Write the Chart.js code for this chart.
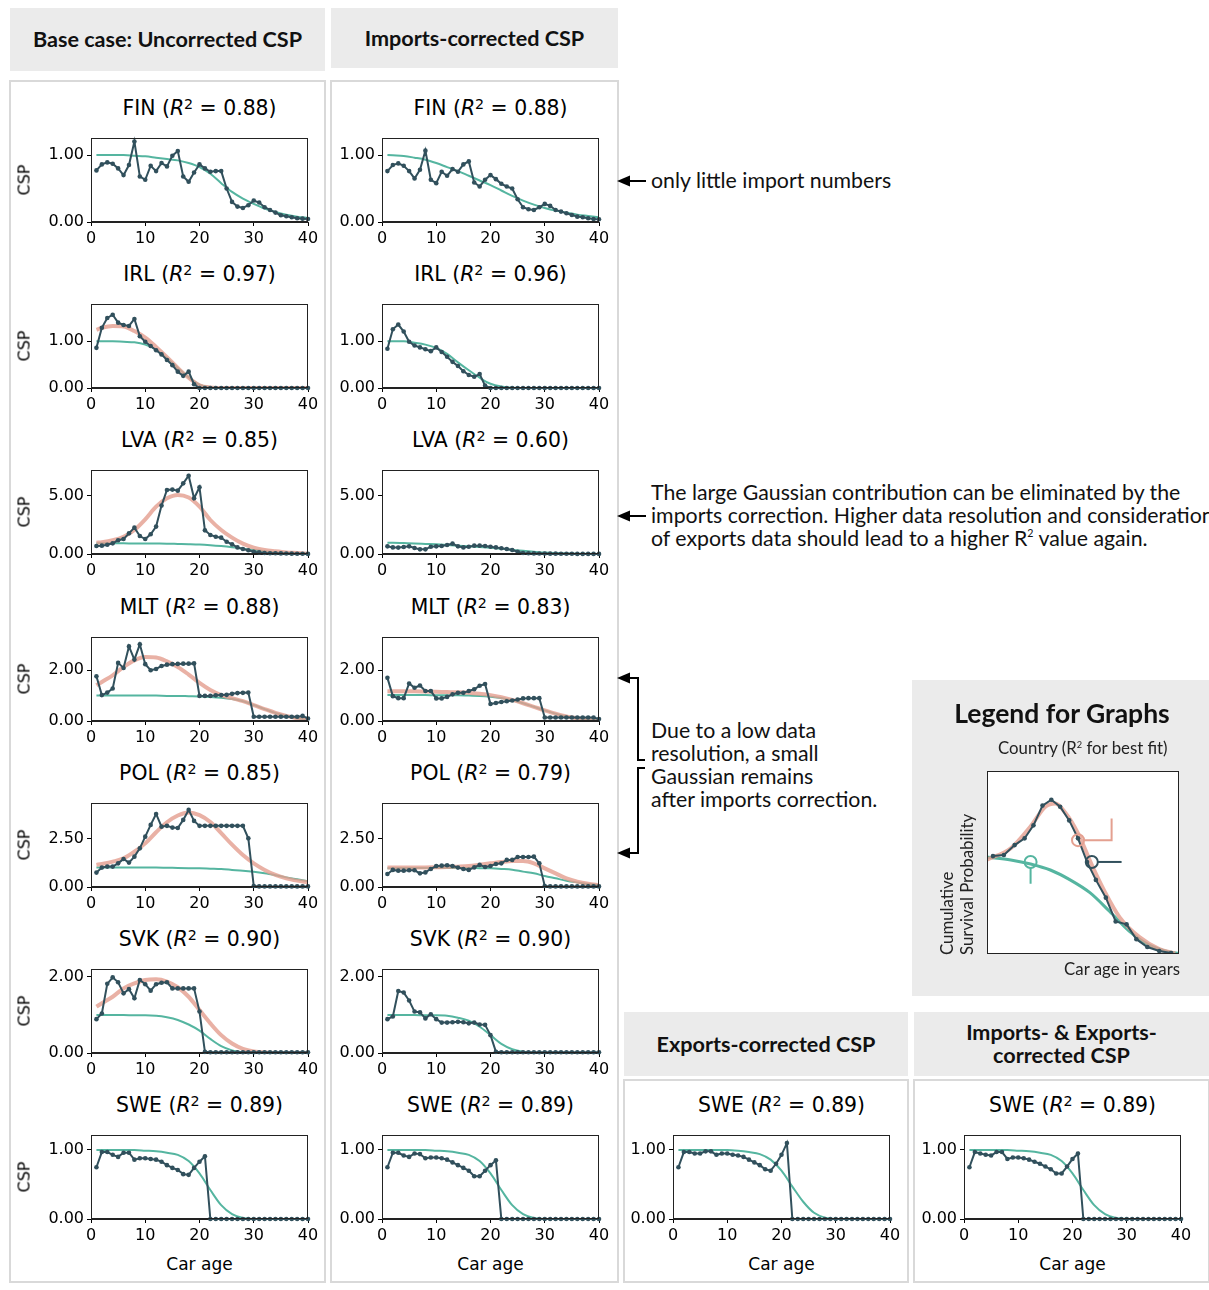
<!DOCTYPE html>
<html><head><meta charset="utf-8">
<script src="https://cdn.jsdelivr.net/npm/chart.js@4.4.0/dist/chart.umd.min.js"></script>
<style>
html,body{margin:0;padding:0;background:#fff;}
#root{position:relative;width:1209px;height:1290px;overflow:hidden;font-family:Lato,sans-serif;color:#111;}
.hdr{position:absolute;background:#ebebeb;font-weight:bold;font-size:21.6px;display:flex;align-items:center;justify-content:center;text-align:center;line-height:23px;}
.frame{position:absolute;border:2px solid #d9d9d9;box-sizing:border-box;}
.ttl{position:absolute;font-family:'DejaVu Sans';font-size:20.4px;white-space:nowrap;transform:translate(-50%,-50%);color:#000;}
.sup{position:relative;top:-0.45em;font-size:0.7em;}
.csp{position:absolute;font-family:'DejaVu Sans';font-size:16px;transform:translate(-50%,-50%) rotate(-90deg);white-space:nowrap;color:#000;}
.xl{position:absolute;font-family:'DejaVu Sans';font-size:17px;transform:translate(-50%,-50%);white-space:nowrap;color:#000;}
.note{position:absolute;font-size:21.3px;line-height:23px;white-space:nowrap;color:#111;}
canvas{position:absolute;}
.lg{position:absolute;font-size:16.8px;white-space:nowrap;line-height:18px;}
</style>
</head><body><div id="root"></div>
<script>
// ---------------- DATA ----------------
const ages = [1,2,3,4,5,6,7,8,9,10,11,12,13,14,15,16,17,18,19,20,21,22,23,24,25,26,27,28,29,30,31,32,33,34,35,36,37,38,39,40];
const fitAges = [1,2,4,6,8,10,12,14,16,18,20,22,24,26,28,30,32,34,36,38,40];
const xTicks = [0,10,20,30,40];

const finBaseData = [0.77,0.86,0.89,0.87,0.80,0.70,0.85,1.20,0.68,0.63,0.84,0.76,0.88,0.83,0.99,1.06,0.68,0.60,0.74,0.86,0.80,0.75,0.76,0.76,0.50,0.30,0.23,0.21,0.25,0.32,0.29,0.22,0.18,0.14,0.10,0.085,0.07,0.055,0.05,0.045];
const finBaseWeibull = [1.00,1.00,1.00,1.00,0.99,0.98,0.96,0.94,0.92,0.88,0.82,0.72,0.58,0.45,0.35,0.27,0.20,0.15,0.11,0.08,0.06];
const finImpData = [0.76,0.85,0.875,0.84,0.76,0.65,0.78,1.065,0.63,0.58,0.75,0.69,0.79,0.75,0.86,0.905,0.59,0.53,0.63,0.70,0.64,0.57,0.53,0.50,0.34,0.22,0.19,0.18,0.22,0.27,0.24,0.18,0.155,0.13,0.105,0.08,0.07,0.055,0.045,0.04];
const finImpWeibull = [1.00,0.995,0.985,0.96,0.93,0.88,0.82,0.76,0.69,0.62,0.55,0.47,0.39,0.32,0.26,0.21,0.17,0.14,0.11,0.09,0.07];

const irlBaseData = [0.86,1.29,1.50,1.57,1.40,1.35,1.33,1.48,1.11,0.99,0.90,0.81,0.72,0.60,0.49,0.35,0.26,0.35,0.08,0,0,0,0,0,0,0,0,0,0,0,0,0,0,0,0,0,0,0,0,0];
const irlBaseGauss = [1.25,1.29,1.33,1.32,1.22,1.08,0.88,0.66,0.43,0.22,0.06,0.01,0,0,0,0,0,0,0,0,0];
const irlBaseWeibull = [1.00,1.00,1.00,0.99,0.98,0.93,0.82,0.64,0.43,0.23,0.07,0.015,0,0,0,0,0,0,0,0,0];
const irlImpData = [0.84,1.26,1.36,1.21,0.99,0.91,0.87,0.83,0.79,0.87,0.77,0.67,0.56,0.47,0.36,0.28,0.24,0.30,0.05,0,0,0,0,0,0,0,0,0,0,0,0,0,0,0,0,0,0,0,0,0];
const irlImpWeibull = [1.00,1.00,1.00,0.97,0.93,0.86,0.73,0.55,0.38,0.22,0.09,0.03,0.005,0,0,0,0,0,0,0,0];

const lvaBaseData = [0.69,0.72,0.80,0.92,1.18,1.29,1.78,2.27,1.55,1.29,1.70,2.36,4.17,5.52,5.55,5.46,6.09,6.75,4.80,5.75,2.04,1.64,1.49,1.41,1.06,0.83,0.57,0.43,0.32,0.20,0.14,0.09,0.07,0.06,0.05,0.04,0.03,0.02,0.02,0.01];
const lvaBaseGauss = [0.98,1.02,1.18,1.49,2.07,2.99,4.08,4.80,5.09,4.86,4.08,2.93,2.07,1.41,0.89,0.55,0.34,0.23,0.14,0.09,0.03];
const lvaBaseWeibull = [0.92,0.92,0.92,0.92,0.91,0.91,0.90,0.89,0.87,0.85,0.82,0.76,0.68,0.58,0.46,0.34,0.24,0.16,0.10,0.06,0.03];
const lvaImpData = [0.66,0.57,0.55,0.60,0.66,0.52,0.40,0.40,0.63,0.66,0.69,0.78,0.89,0.66,0.57,0.63,0.72,0.72,0.69,0.63,0.57,0.49,0.43,0.34,0.20,0.09,0.06,0.05,0.04,0.04,0.03,0.03,0.02,0.02,0.02,0.01,0.01,0.01,0.01,0.01];
const lvaImpWeibull = [0.98,0.97,0.94,0.91,0.87,0.83,0.78,0.72,0.66,0.60,0.53,0.45,0.36,0.27,0.19,0.12,0.08,0.05,0.03,0.02,0.01];

const mltBaseData = [1.76,1.02,1.12,1.28,2.29,2.09,2.94,2.42,3.02,2.24,2.00,2.05,2.17,2.22,2.24,2.25,2.26,2.26,2.27,0.99,0.99,0.99,1.01,1.02,1.03,1.07,1.10,1.11,1.12,0.17,0.17,0.17,0.17,0.17,0.17,0.17,0.17,0.17,0.20,0.10];
const mltBaseGauss = [1.41,1.54,1.80,2.13,2.39,2.52,2.50,2.35,2.13,1.83,1.50,1.22,1.02,0.90,0.78,0.63,0.47,0.32,0.20,0.11,0.05];
const mltBaseWeibull = [1.00,1.00,1.00,1.00,1.00,1.00,1.00,0.99,0.99,0.98,0.97,0.95,0.92,0.87,0.78,0.63,0.47,0.32,0.20,0.11,0.05];
const mltImpData = [1.70,0.98,0.90,0.90,1.48,1.31,1.40,1.18,1.18,0.89,0.89,0.95,1.05,1.11,1.11,1.18,1.25,1.39,1.46,0.67,0.71,0.75,0.78,0.81,0.85,0.89,0.90,0.90,0.90,0.14,0.14,0.14,0.14,0.14,0.14,0.14,0.14,0.14,0.14,0.08];
const mltImpGauss = [1.17,1.17,1.17,1.17,1.16,1.15,1.14,1.13,1.11,1.07,1.02,0.94,0.83,0.70,0.56,0.42,0.29,0.18,0.11,0.06,0.03];
const mltImpWeibull = [1.02,1.02,1.02,1.02,1.02,1.01,1.01,1.01,1.00,0.99,0.96,0.91,0.82,0.70,0.56,0.42,0.29,0.18,0.11,0.06,0.03];

const polBaseData = [0.75,1.01,1.06,1.06,1.23,1.46,1.27,1.58,2.01,2.62,3.23,3.80,3.14,3.18,3.09,3.07,3.49,4.01,3.44,3.18,3.18,3.18,3.18,3.18,3.18,3.18,3.18,3.18,2.53,0.05,0.03,0.03,0.03,0.03,0.03,0.03,0.03,0.03,0.03,0.03];
const polBaseGauss = [1.15,1.20,1.32,1.49,1.84,2.27,2.85,3.37,3.72,3.88,3.74,3.38,2.80,2.20,1.66,1.23,0.89,0.63,0.45,0.33,0.24];
const polBaseWeibull = [1.02,1.02,1.02,1.02,1.02,1.01,1.01,1.00,0.99,0.98,0.97,0.95,0.93,0.89,0.85,0.79,0.71,0.61,0.50,0.40,0.30];
const polImpData = [0.68,0.89,0.85,0.85,0.87,0.87,0.71,0.76,0.94,1.09,1.11,1.13,1.09,1.01,0.94,0.89,1.02,1.15,1.04,1.09,1.20,1.23,1.41,1.41,1.56,1.56,1.56,1.58,1.23,0.05,0.03,0.03,0.03,0.03,0.03,0.03,0.03,0.03,0.03,0.03];
const polImpGauss = [1.02,1.02,1.02,1.02,1.02,1.03,1.04,1.06,1.09,1.16,1.23,1.30,1.35,1.35,1.23,0.97,0.71,0.45,0.28,0.17,0.10];
const polImpWeibull = [0.98,0.98,0.99,0.99,0.99,0.99,0.99,0.99,0.99,0.98,0.97,0.94,0.90,0.80,0.71,0.57,0.45,0.33,0.24,0.16,0.10];

const svkBaseData = [0.89,1.04,1.82,1.99,1.86,1.57,1.68,1.44,1.92,1.81,1.64,1.81,1.85,1.86,1.70,1.70,1.70,1.70,1.70,1.09,0.03,0.02,0.02,0.02,0.02,0.02,0.02,0.02,0.02,0.02,0.02,0.02,0.02,0.02,0.02,0.02,0.02,0.02,0.02,0.02];
const svkBaseGauss = [1.22,1.31,1.48,1.70,1.83,1.92,1.94,1.88,1.73,1.48,1.13,0.78,0.47,0.25,0.11,0.04,0.01,0,0,0,0];
const svkBaseWeibull = [1.00,1.00,1.00,1.00,0.99,0.99,0.98,0.94,0.87,0.75,0.59,0.37,0.18,0.07,0.02,0,0,0,0,0,0];
const svkImpData = [0.89,0.96,1.63,1.59,1.38,1.09,1.07,0.91,1.02,0.89,0.80,0.80,0.81,0.82,0.81,0.78,0.80,0.75,0.74,0.47,0.03,0.02,0.02,0.02,0.02,0.02,0.02,0.02,0.02,0.02,0.02,0.02,0.02,0.02,0.02,0.02,0.02,0.02,0.02,0.02];
const svkImpWeibull = [1.00,1.00,1.00,1.00,0.99,0.99,0.98,0.93,0.85,0.69,0.47,0.24,0.10,0.03,0,0,0,0,0,0,0];

const sweBaseData = [0.75,0.97,0.97,0.93,0.90,0.96,0.96,0.86,0.88,0.88,0.87,0.86,0.83,0.78,0.74,0.71,0.65,0.64,0.74,0.83,0.91,0,0,0,0,0,0,0,0,0,0,0,0,0,0,0,0,0,0,0];
const sweBaseWeibull = [1.00,1.00,1.00,1.00,1.00,0.99,0.98,0.96,0.93,0.84,0.66,0.42,0.20,0.07,0.015,0,0,0,0,0,0];
const sweImpData = [0.75,0.96,0.96,0.92,0.90,0.95,0.94,0.88,0.89,0.89,0.88,0.86,0.82,0.78,0.74,0.70,0.62,0.62,0.70,0.78,0.85,0,0,0,0,0,0,0,0,0,0,0,0,0,0,0,0,0,0,0];
const sweImpWeibull = [1.00,1.00,1.00,1.00,1.00,0.99,0.98,0.96,0.93,0.84,0.66,0.42,0.20,0.07,0.015,0,0,0,0,0,0];
const sweExpData = [0.75,0.97,0.97,0.95,0.95,0.98,0.98,0.93,0.95,0.95,0.93,0.92,0.90,0.86,0.82,0.78,0.72,0.70,0.80,0.93,1.10,0,0,0,0,0,0,0,0,0,0,0,0,0,0,0,0,0,0,0];
const sweExpWeibull = [1.00,1.00,1.00,1.00,1.00,1.00,0.99,0.97,0.94,0.86,0.70,0.47,0.25,0.09,0.02,0,0,0,0,0,0];
const sweIeData = [0.75,0.97,0.95,0.93,0.92,0.97,0.97,0.87,0.89,0.89,0.88,0.86,0.83,0.80,0.76,0.72,0.66,0.66,0.76,0.87,0.95,0,0,0,0,0,0,0,0,0,0,0,0,0,0,0,0,0,0,0];
const sweIeWeibull = [1.00,1.00,1.00,1.00,1.00,0.99,0.98,0.96,0.93,0.84,0.66,0.42,0.20,0.07,0.015,0,0,0,0,0,0];

const ticksFIN = [0,1], ticksIRL = [0,1], ticksLVA = [0,5], ticksMLT = [0,2], ticksPOL = [0,2.5], ticksSVK = [0,2], ticksSWE = [0,1];

// legend illustration (schematic)
const legendDataX = [0.31,0.88,1.44,1.96,2.42,2.89,3.35,3.81,4.28,4.74,5.21,5.67,6.19,6.70,7.27,7.78,8.35,8.97,9.59];
const legendDataY = [5.35,5.41,5.95,6.32,7.03,8.11,8.43,8.05,7.30,6.32,5.03,4.05,3.08,1.78,1.62,0.81,0.38,0.16,0.05];
const legendGaussX = [0.0,1.24,2.27,3.04,3.56,4.07,4.74,5.46,6.13,6.91,7.94,8.97,9.8];
const legendGaussY = [5.15,5.78,6.97,8.05,8.22,7.73,6.59,4.86,3.41,2.00,0.92,0.27,0.03];
const legendWeibullX = [0.0,1.24,2.27,3.30,4.33,5.36,6.39,7.42,8.45,9.48,10];
const legendWeibullY = [5.30,5.14,4.92,4.59,4.05,3.35,2.32,1.24,0.49,0.11,0.03];
const legendMarkX = [4.74,5.46,2.27];
const legendMarkY = [6.22,5.03,5.03];

// ---------------- LAYOUT ----------------
const colX = [91,382,673,964];
const rowY = [138,304,470,637,803,969,1135];
const plotW = 217, plotH = 84;
const DARK = '#31505c', TEAL = '#55b5a0', SALMON = 'rgba(228,158,142,0.8)';

const panels = [
 {c:0,r:0,n:'FIN',r2:'0.88',d:finBaseData,w:finBaseWeibull,g:null,ymax:1.254,t:ticksFIN},
 {c:1,r:0,n:'FIN',r2:'0.88',d:finImpData,w:finImpWeibull,g:null,ymax:1.254,t:ticksFIN},
 {c:0,r:1,n:'IRL',r2:'0.97',d:irlBaseData,w:irlBaseWeibull,g:irlBaseGauss,ymax:1.80,t:ticksIRL},
 {c:1,r:1,n:'IRL',r2:'0.96',d:irlImpData,w:irlImpWeibull,g:null,ymax:1.80,t:ticksIRL},
 {c:0,r:2,n:'LVA',r2:'0.85',d:lvaBaseData,w:lvaBaseWeibull,g:lvaBaseGauss,ymax:7.24,t:ticksLVA},
 {c:1,r:2,n:'LVA',r2:'0.60',d:lvaImpData,w:lvaImpWeibull,g:null,ymax:7.24,t:ticksLVA},
 {c:0,r:3,n:'MLT',r2:'0.88',d:mltBaseData,w:mltBaseWeibull,g:mltBaseGauss,ymax:3.31,t:ticksMLT},
 {c:1,r:3,n:'MLT',r2:'0.83',d:mltImpData,w:mltImpWeibull,g:mltImpGauss,ymax:3.31,t:ticksMLT},
 {c:0,r:4,n:'POL',r2:'0.85',d:polBaseData,w:polBaseWeibull,g:polBaseGauss,ymax:4.37,t:ticksPOL},
 {c:1,r:4,n:'POL',r2:'0.79',d:polImpData,w:polImpWeibull,g:polImpGauss,ymax:4.37,t:ticksPOL},
 {c:0,r:5,n:'SVK',r2:'0.90',d:svkBaseData,w:svkBaseWeibull,g:svkBaseGauss,ymax:2.21,t:ticksSVK},
 {c:1,r:5,n:'SVK',r2:'0.90',d:svkImpData,w:svkImpWeibull,g:null,ymax:2.21,t:ticksSVK},
 {c:0,r:6,n:'SWE',r2:'0.89',d:sweBaseData,w:sweBaseWeibull,g:null,ymax:1.217,t:ticksSWE},
 {c:1,r:6,n:'SWE',r2:'0.89',d:sweImpData,w:sweImpWeibull,g:null,ymax:1.217,t:ticksSWE},
 {c:2,r:6,n:'SWE',r2:'0.89',d:sweExpData,w:sweExpWeibull,g:null,ymax:1.217,t:ticksSWE},
 {c:3,r:6,n:'SWE',r2:'0.89',d:sweIeData,w:sweIeWeibull,g:null,ymax:1.217,t:ticksSWE}
];

const root = document.getElementById('root');
function el(tag, cls, css, html){const e=document.createElement(tag); if(cls)e.className=cls; if(css)e.style.cssText=css; if(html!==undefined)e.innerHTML=html; root.appendChild(e); return e;}

// headers and frames
el('div','hdr','left:10px;top:8px;width:315px;height:63px;','Base case: Uncorrected CSP');
el('div','hdr','left:331px;top:8px;width:287px;height:60px;','Imports-corrected CSP');
el('div','hdr','left:624px;top:1012px;width:284px;height:64px;','Exports-corrected CSP');
el('div','hdr','left:914px;top:1012px;width:295px;height:64px;','Imports- &amp; Exports-<br>corrected CSP');
el('div','frame','left:9px;top:80px;width:317px;height:1203px;');
el('div','frame','left:330px;top:80px;width:289px;height:1203px;');
el('div','frame','left:623px;top:1079px;width:286px;height:204px;');
el('div','frame','left:913px;top:1079px;width:297px;height:204px;');
el('div','','position:absolute;left:912px;top:680px;width:297px;height:316px;background:#ebebeb;');

const boxPlugin = {id:'box', afterDraw(chart){const {ctx, chartArea:a}=chart; ctx.save(); ctx.strokeStyle='#222'; ctx.lineWidth=1; ctx.strokeRect(Math.round(a.left)+0.5, Math.round(a.top)+0.5, Math.round(a.right-a.left)-1, Math.round(a.bottom-a.top)-1); ctx.restore();}};

const tickFont = {family:'DejaVu Sans', size:16};
function makePanel(p){
  const L = colX[p.c], T = rowY[p.r];
  const W = 60+plotW+14, H = 16+plotH+30;
  const cv = document.createElement('canvas');
  cv.width=W; cv.height=H;
  cv.style.cssText = `left:${L-60}px;top:${T-16}px;width:${W}px;height:${H}px;`;
  root.appendChild(cv);
  const ds = [{data: ages.map((a,i)=>({x:a,y:p.d[i]})), borderColor:DARK, backgroundColor:DARK, borderWidth:2, pointRadius:2.3, pointBorderWidth:0, pointHoverRadius:0, tension:0, clip:4}];
  if (p.g) ds.push({data: fitAges.map((a,i)=>({x:a,y:p.g[i]})), borderColor:SALMON, borderWidth:4, pointRadius:0, cubicInterpolationMode:'monotone'});
  ds.push({data: fitAges.map((a,i)=>({x:a,y:p.w[i]})), borderColor:TEAL, borderWidth:2, pointRadius:0, cubicInterpolationMode:'monotone'});
  const grid = {display:true, drawOnChartArea:false, drawTicks:true, tickLength:4, tickColor:'#000', tickWidth:1};
  new Chart(cv, {type:'line', data:{datasets:ds}, plugins:[boxPlugin], options:{
    responsive:false, animation:false, devicePixelRatio:1, events:[],
    layout:{padding:{left:0,right:14,top:16,bottom:0}},
    plugins:{legend:{display:false}, tooltip:{enabled:false}},
    scales:{
      x:{type:'linear', min:0, max:40, afterFit:s=>{s.height=30;},
         afterBuildTicks:s=>{s.ticks = xTicks.map(v=>({value:v}));},
         ticks:{font:tickFont, color:'#000', padding:3, maxRotation:0, autoSkip:false, callback:v=>String(v)},
         grid:grid, border:{display:true,color:'#222',width:1}},
      y:{type:'linear', min:0, max:p.ymax, afterFit:s=>{s.width=60;},
         afterBuildTicks:s=>{s.ticks = p.t.map(v=>({value:v}));},
         ticks:{font:tickFont, color:'#000', padding:3, autoSkip:false, callback:v=>Number(v).toFixed(2)},
         grid:grid, border:{display:true,color:'#222',width:1}}
    }}});
  el('div','ttl',`left:${L+plotW/2}px;top:${T-30}px;`, `${p.n} (<i>R</i><span class="sup">2</span> = ${p.r2})`);
  if (p.c===0) el('div','csp',`left:24px;top:${T+plotH/2}px;`,'CSP');
  if (p.r===6) el('div','xl',`left:${L+plotW/2}px;top:1264px;`,'Car age');
}
panels.forEach(makePanel);

// annotations
el('div','note','left:651px;top:169px;','only little import numbers');
el('div','note','left:651px;top:481px;','The large Gaussian contribution can be eliminated by the<br>imports correction. Higher data resolution and consideration<br>of exports data should lead to a higher R<span class="sup" style="font-size:0.5em;top:-0.8em">2</span> value again.');
el('div','note','left:651px;top:719px;','Due to a low data<br>resolution, a small<br>Gaussian remains<br>after imports correction.');
const svgNS='http://www.w3.org/2000/svg';
const svg=document.createElementNS(svgNS,'svg');
svg.setAttribute('width','1209');svg.setAttribute('height','1290');
svg.style.cssText='position:absolute;left:0;top:0;pointer-events:none;';
svg.innerHTML = `
<g stroke="#000" stroke-width="2" fill="none">
<line x1="626" y1="181" x2="646" y2="181"/>
<line x1="626" y1="516" x2="646" y2="516"/>
<path d="M626,678 H638 V760 H645"/>
<path d="M645,768 H638 V853 H626"/>
</g>
<g fill="#000">
<polygon points="617,181 630,175.5 630,186.5"/>
<polygon points="617,516 630,510.5 630,521.5"/>
<polygon points="617,678 630,672.5 630,683.5"/>
<polygon points="617,853 630,847.5 630,858.5"/>
</g>`;
root.appendChild(svg);

// legend panel
el('div','','position:absolute;left:912px;top:698px;width:300px;text-align:center;font-weight:bold;font-size:26.5px;line-height:30px;','Legend for Graphs');
el('div','lg','left:998px;top:739px;color:#222;','Country (R<span class="sup" style="font-size:0.55em;top:-0.7em">2</span> for best fit)');
el('div','lg','left:1000px;top:960px;width:180px;text-align:right;color:#222;','Car age in years');
el('div','lg','left:937px;top:955px;width:170px;line-height:20px;transform-origin:0 0;transform:rotate(-90deg);color:#222;','Cumulative<br>Survival Probability');
el('div','lg','left:1081px;top:782px;color:#e4a090;','Weibull +<br>Gaussian fit');
el('div','lg','left:1126px;top:846px;color:#31505c;','Data<br>points');
el('div','lg','left:997px;top:888px;color:#55b5a0;','Weibull fit');

const lcv=document.createElement('canvas');
lcv.width=208; lcv.height=199;
lcv.style.cssText='left:979px;top:763px;width:208px;height:199px;';
root.appendChild(lcv);
new Chart(lcv,{type:'line',data:{datasets:[
  {data:[{x:legendMarkX[0],y:legendMarkY[0]}],showLine:false,pointRadius:6,pointBorderWidth:2,pointBorderColor:'#e4a090',pointBackgroundColor:'rgba(0,0,0,0)'},
  {data:[{x:legendMarkX[1],y:legendMarkY[1]}],showLine:false,pointRadius:6,pointBorderWidth:2,pointBorderColor:DARK,pointBackgroundColor:'rgba(0,0,0,0)'},
  {data:[{x:legendMarkX[2],y:legendMarkY[2]}],showLine:false,pointRadius:6,pointBorderWidth:2,pointBorderColor:TEAL,pointBackgroundColor:'rgba(0,0,0,0)'},
  {data:[{x:5.05,y:6.22},{x:6.49,y:6.22},{x:6.49,y:7.41}],borderColor:'#e4a090',borderWidth:2,pointRadius:0},
  {data:[{x:5.77,y:5.03},{x:7.01,y:5.03}],borderColor:DARK,borderWidth:2,pointRadius:0},
  {data:[{x:2.27,y:4.70},{x:2.27,y:3.84}],borderColor:TEAL,borderWidth:2,pointRadius:0},
  {data:legendDataX.map((x,i)=>({x,y:legendDataY[i]})),borderColor:DARK,backgroundColor:DARK,borderWidth:2,pointRadius:2.3,pointBorderWidth:0},
  {data:legendGaussX.map((x,i)=>({x,y:legendGaussY[i]})),borderColor:SALMON,borderWidth:4,pointRadius:0,cubicInterpolationMode:'monotone'},
  {data:legendWeibullX.map((x,i)=>({x,y:legendWeibullY[i]})),borderColor:TEAL,borderWidth:3,pointRadius:0,cubicInterpolationMode:'monotone'}
]},plugins:[{id:'lbg',beforeDraw(c){const {ctx,chartArea:a}=c;ctx.save();ctx.fillStyle='#fff';ctx.fillRect(a.left,a.top,a.right-a.left,a.bottom-a.top);ctx.restore();}},boxPlugin],
options:{responsive:false,animation:false,devicePixelRatio:1,events:[],layout:{padding:4},
 plugins:{legend:{display:false},tooltip:{enabled:false}},
 scales:{x:{type:'linear',min:0,max:10,display:false},y:{type:'linear',min:0,max:10,display:false}}}});
</script></body></html>
